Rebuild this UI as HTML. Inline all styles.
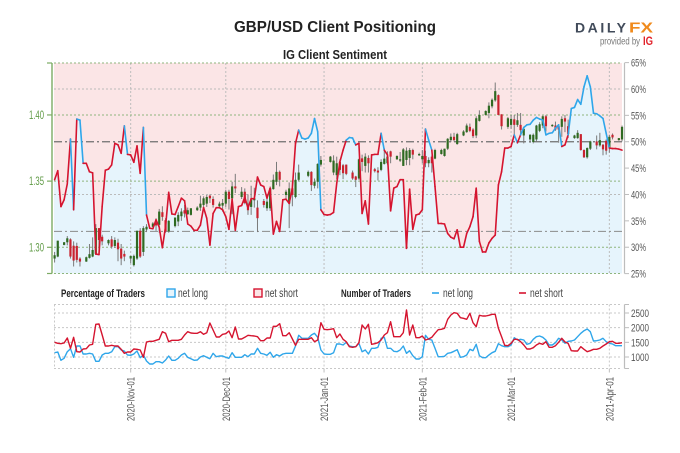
<!DOCTYPE html>
<html>
<head>
<meta charset="utf-8">
<title>GBP/USD Client Positioning</title>
<style>
html,body{margin:0;padding:0;background:#fff;}
svg{display:block;filter:blur(0.3px);}
text{font-family:"Liberation Sans",sans-serif;}
.b{font-weight:bold;}
</style>
</head>
<body>
<svg id="chart" xmlns="http://www.w3.org/2000/svg" width="680" height="453" viewBox="0 0 680 453">
  <text class="b" x="234" y="32" font-size="16" fill="#222" textLength="202" lengthAdjust="spacingAndGlyphs">GBP/USD Client Positioning</text>
  <text class="b" x="283" y="59" font-size="12.5" fill="#222" textLength="104" lengthAdjust="spacingAndGlyphs">IG Client Sentiment</text>
  <text class="b" x="575" y="32.5" font-size="14" fill="#414b5a" textLength="51">DAILY</text>
  <text class="b" x="629" y="32.5" font-size="14.5" fill="#f08a1c" textLength="24" lengthAdjust="spacingAndGlyphs">FX</text>
  <text x="600" y="44.5" font-size="10.5" fill="#777" textLength="40" lengthAdjust="spacingAndGlyphs">provided by</text>
  <text class="b" x="643" y="45" font-size="12" fill="#e1222b" textLength="10" lengthAdjust="spacingAndGlyphs">IG</text>
  <g id="main"></g>
  <g id="lower"></g>
  <g id="legend">
    <text class="b" x="61" y="297" font-size="11" fill="#222" textLength="84" lengthAdjust="spacingAndGlyphs">Percentage of Traders</text>
    <rect x="167" y="289" width="8" height="8" fill="#e6f4fc" stroke="#2fa6ea" stroke-width="1.4"/>
    <text x="178" y="297" font-size="11.5" fill="#444" textLength="30" lengthAdjust="spacingAndGlyphs">net long</text>
    <rect x="254" y="289" width="8" height="8" fill="#fbe5e6" stroke="#d5142f" stroke-width="1.4"/>
    <text x="265" y="297" font-size="11.5" fill="#444" textLength="33" lengthAdjust="spacingAndGlyphs">net short</text>
    <text class="b" x="341" y="297" font-size="11" fill="#222" textLength="70" lengthAdjust="spacingAndGlyphs">Number of Traders</text>
    <line x1="432" x2="439" y1="293" y2="293" stroke="#2fa6ea" stroke-width="1.6"/>
    <text x="443" y="297" font-size="11.5" fill="#444" textLength="30" lengthAdjust="spacingAndGlyphs">net long</text>
    <line x1="519" x2="526" y1="293" y2="293" stroke="#d5142f" stroke-width="1.6"/>
    <text x="530" y="297" font-size="11.5" fill="#444" textLength="33" lengthAdjust="spacingAndGlyphs">net short</text>
  </g>
</svg>
<script>
// Daily net-long percentage, first value is 2020-10-08
var sentimentPct = [42.8,44.5,37.7,39.0,42.0,50.5,37.1,54.3,54.1,45.9,45.9,44.3,44.1,28.7,28.6,37.7,44.6,44.8,45.6,49.7,
49.4,47.8,53.0,47.6,47.5,46.1,49.2,44.0,52.7,36.1,33.6,33.5,35.2,33.8,29.9,33.9,40.4,36.3,36.2,37.7,
39.3,38.8,34.4,34.0,33.2,33.2,34.2,37.5,35.5,30.4,36.4,37.5,37.5,37.1,35.8,33.4,39.1,33.2,37.7,37.9,
39.5,37.4,39.2,39.2,43.3,41.8,41.5,39.3,41.2,32.5,34.9,33.0,39.0,39.1,38.3,41.2,49.7,52.2,50.7,50.5,
50.7,51.6,54.4,51.9,37.1,36.2,36.1,36.2,36.6,42.1,46.2,48.4,50.3,50.8,50.7,49.4,49.7,36.4,38.8,34.4,
47.5,47.6,47.6,51.6,48.4,47.5,36.9,41.2,41.5,42.8,42.8,29.8,41.0,33.4,36.1,36.3,37.1,52.4,50.3,48.4,
41.5,34.5,34.5,34.4,32.6,31.9,31.6,33.3,30.0,30.0,32.6,33.9,35.8,41.2,31.1,29.1,29.1,30.8,31.7,32.3,
41.8,44.3,48.8,48.8,49.1,51.3,49.8,51.3,52.7,53.2,53.3,54.1,54.6,54.3,54.1,51.3,51.6,51.7,52.6,53.2,
49.1,49.4,51.3,56.3,56.5,58.0,57.1,60.4,62.5,60.4,55.4,55.3,54.9,54.4,51.6,48.8,48.7,48.7,48.6,48.4];

// Candles: day offset from 2020-10-08, then open / high / low / close
var candleDay = [0,1,3,4,5,6,7,8,10,11,12,13,14,15,17,18,19,20,21,22,24,25,26,27,28,29,31,32,33,34,35,36,38,39,40,41,42,43,45,46,47,48,49,50,52,53,54,55,56,57,59,60,61,62,63,64,66,67,68,69,70,71,73,74,75,76,77,80,81,82,83,84,87,88,89,90,91,92,94,95,96,97,98,99,101,102,103,104,105,106,108,109,110,111,112,113,115,116,117,118,119,120,122,123,124,125,126,127,129,130,131,132,133,134,136,137,138,139,140,141,143,144,145,146,147,148,150,151,152,153,154,155,157,158,159,160,161,162,164,165,166,167,168,169,171,172,173,174,175,176,178,179];
var candleOpen = [1.2915,1.293,1.3018,1.3038,1.306,1.3012,1.301,1.2915,1.2892,1.292,1.293,1.295,1.3145,1.308,1.303,1.306,1.301,1.3035,1.299,1.295,1.2915,1.2865,1.2915,1.3125,1.2965,1.3135,1.3155,1.3185,1.317,1.3265,1.3205,1.312,1.316,1.3195,1.3235,1.328,1.325,1.3245,1.328,1.33,1.332,1.333,1.339,1.3365,1.331,1.3315,1.333,1.342,1.337,1.346,1.338,1.342,1.332,1.3305,1.3355,1.33,1.335,1.3295,1.3295,1.344,1.3495,1.357,1.3395,1.333,1.3445,1.338,1.351,1.354,1.357,1.3465,1.3495,1.3625,1.3645,1.3565,1.3545,1.3645,1.362,1.3625,1.3565,1.3535,1.352,1.3672,1.3615,1.3675,1.359,1.358,1.3585,1.363,1.3635,1.3725,1.3665,1.3655,1.3615,1.366,1.3675,1.3735,1.3695,1.3665,1.369,1.3635,1.3685,1.367,1.3705,1.369,1.3745,1.381,1.3835,1.378,1.3845,1.387,1.391,1.389,1.3845,1.3955,1.40,1.4015,1.4065,1.411,1.415,1.4005,1.391,1.3925,1.3967,1.3925,1.3925,1.3845,1.3815,1.3795,1.3815,1.388,1.392,1.399,1.3915,1.392,1.3915,1.391,1.3975,1.3915,1.3825,1.3825,1.3855,1.3735,1.368,1.3745,1.38,1.377,1.3775,1.3805,1.3755,1.385,1.381,1.3815];
var candleHigh = [1.2965,1.305,1.304,1.3085,1.3068,1.3045,1.3035,1.2925,1.293,1.3025,1.3075,1.3175,1.3145,1.3095,1.306,1.3085,1.3075,1.3065,1.3025,1.2975,1.2935,1.2945,1.3125,1.3145,1.316,1.3175,1.319,1.322,1.329,1.331,1.322,1.3205,1.3225,1.3265,1.3295,1.332,1.33,1.3295,1.331,1.339,1.3385,1.3395,1.34,1.3385,1.3345,1.3365,1.3435,1.3435,1.3495,1.3555,1.3455,1.3445,1.34,1.3465,1.345,1.3355,1.3365,1.34,1.346,1.355,1.3645,1.358,1.3435,1.349,1.3495,1.3565,1.3625,1.358,1.3575,1.352,1.3635,1.369,1.369,1.3695,1.3685,1.3665,1.363,1.3625,1.358,1.354,1.367,1.37,1.371,1.3695,1.36,1.3605,1.3665,1.375,1.3725,1.373,1.3695,1.372,1.375,1.3755,1.375,1.3745,1.3715,1.3735,1.373,1.368,1.3695,1.3745,1.3745,1.3745,1.3825,1.386,1.3865,1.3865,1.3885,1.3935,1.3935,1.39,1.399,1.4035,1.4035,1.4095,1.4125,1.4245,1.4155,1.4005,1.3985,1.40,1.40,1.4015,1.4015,1.39,1.3855,1.386,1.3925,1.3945,1.3995,1.40,1.393,1.395,1.3925,1.399,1.40,1.3965,1.385,1.3885,1.3855,1.374,1.3755,1.3805,1.3845,1.3865,1.378,1.3815,1.385,1.386,1.3825,1.392];
var candleLow = [1.2885,1.2925,1.3015,1.3015,1.2915,1.2855,1.2885,1.2855,1.289,1.2915,1.2925,1.2945,1.2975,1.3015,1.3015,1.299,1.2995,1.2895,1.2865,1.2895,1.288,1.2855,1.2905,1.292,1.2935,1.3115,1.315,1.3125,1.311,1.32,1.311,1.311,1.315,1.316,1.32,1.3225,1.3245,1.324,1.3275,1.3275,1.3305,1.3305,1.3335,1.33,1.3305,1.327,1.3305,1.3285,1.325,1.341,1.3365,1.3325,1.3245,1.3245,1.33,1.3115,1.33,1.3275,1.3275,1.3435,1.347,1.346,1.336,1.3145,1.331,1.337,1.35,1.353,1.3425,1.3445,1.3445,1.361,1.364,1.3545,1.3515,1.3545,1.3515,1.3545,1.351,1.3455,1.351,1.3575,1.3565,1.3565,1.3565,1.3505,1.3575,1.3625,1.3625,1.3635,1.366,1.3645,1.3615,1.362,1.362,1.3665,1.369,1.3635,1.3605,1.3605,1.3565,1.3665,1.37,1.3685,1.3735,1.3795,1.38,1.3775,1.384,1.3865,1.387,1.3825,1.3825,1.395,1.3995,1.3975,1.405,1.41,1.40,1.389,1.3895,1.3895,1.3855,1.391,1.3855,1.3785,1.379,1.3785,1.38,1.387,1.39,1.3875,1.391,1.388,1.379,1.3835,1.387,1.3825,1.382,1.382,1.373,1.3675,1.367,1.3735,1.374,1.376,1.3695,1.37,1.3715,1.3815,1.3805,1.38];
var candleClose = [1.294,1.305,1.3038,1.3068,1.293,1.29,1.2905,1.2892,1.2925,1.2948,1.298,1.3145,1.3055,1.3045,1.3055,1.3005,1.3055,1.2985,1.2915,1.293,1.2935,1.2935,1.3125,1.293,1.3145,1.3155,1.318,1.3165,1.327,1.323,1.312,1.32,1.3225,1.3245,1.327,1.3255,1.328,1.3295,1.33,1.333,1.337,1.338,1.337,1.332,1.333,1.3335,1.342,1.3365,1.346,1.3445,1.342,1.3335,1.328,1.336,1.337,1.322,1.332,1.3345,1.3445,1.351,1.357,1.351,1.342,1.3445,1.3395,1.351,1.3565,1.357,1.347,1.3495,1.363,1.366,1.3685,1.3655,1.3635,1.3585,1.356,1.3555,1.352,1.351,1.3665,1.3645,1.3685,1.3635,1.3575,1.3565,1.3645,1.367,1.3685,1.3685,1.369,1.3665,1.374,1.373,1.3735,1.37,1.3705,1.369,1.3635,1.366,1.3635,1.3735,1.3735,1.3745,1.382,1.3835,1.381,1.3855,1.3875,1.392,1.388,1.384,1.3975,1.40,1.403,1.407,1.4115,1.418,1.40,1.3915,1.3975,1.397,1.3925,1.396,1.3885,1.3895,1.385,1.385,1.392,1.393,1.399,1.3915,1.3925,1.389,1.389,1.397,1.395,1.3855,1.3845,1.3865,1.3735,1.368,1.375,1.38,1.377,1.381,1.374,1.373,1.3835,1.383,1.3825,1.391];

// Trader counts per day
var countLong = [1148,1170,886,955,1182,1284,989,1375,1375,1102,1102,1125,1102,852,852,1068,1125,1125,1182,1352,
1352,1239,1204,1068,1057,1102,1204,977,1068,864,761,761,841,841,795,898,1034,886,886,955,
1068,1125,989,943,886,898,1000,1045,989,943,1125,1011,1034,1034,989,955,1148,989,989,989,
1080,1011,1102,1102,1295,1125,1102,1057,1159,989,1080,1034,1102,1125,1125,1125,1375,1738,1636,1636,
1636,1750,1807,1670,1239,1102,1091,1091,1148,1443,1443,1409,1500,1375,1352,1352,1466,1182,1239,1102,
1295,1295,1329,1636,1670,1295,1295,1193,1182,1239,1375,1125,1216,1045,932,932,1011,1738,1602,1579,
1295,1011,1011,1023,1125,1148,1193,1250,989,1011,1068,1261,1216,1432,1045,977,977,1068,1148,1193,
1454,1386,1352,1352,1409,1659,1579,1602,1579,1432,1466,1602,1693,1716,1670,1579,1409,1409,1489,1636,
1579,1466,1534,1545,1579,1693,1807,1897,1954,1863,1545,1557,1579,1636,1523,1466,1443,1386,1386,1386];
var countShort = [1500,1466,1454,1477,1648,1295,1670,1182,1170,1273,1284,1409,1432,2113,2125,1750,1375,1375,1398,1375,
1375,1261,1125,1170,1170,1273,1261,1239,989,1511,1534,1534,1568,1602,1863,1807,1523,1568,1568,1568,
1602,1750,1863,1818,1807,1807,1863,1772,1829,2159,1920,1682,1682,1772,1795,1886,1659,2022,1613,1613,
1670,1738,1727,1716,1693,1557,1557,1648,1648,2045,2045,2136,1727,1727,1829,1613,1398,1602,1602,1602,
1602,1659,1523,1579,2170,1943,1932,1943,1966,1659,1784,1602,1523,1352,1329,1352,1489,2091,1954,2113,
1432,1454,1489,1579,1750,1829,2204,1693,1693,1693,1829,2602,1750,2091,1659,1659,1716,1579,1613,1670,
1807,1932,1943,1977,2284,2431,2511,2488,2340,2318,2284,2488,2170,2034,2420,2397,2397,2420,2454,2454,
1977,1693,1398,1386,1466,1602,1602,1523,1409,1273,1273,1318,1409,1466,1432,1523,1329,1329,1386,1500,
1636,1511,1466,1216,1204,1204,1352,1261,1182,1216,1261,1261,1295,1375,1443,1523,1534,1466,1466,1489];

// Axis labels
var priceTicks = [1.30,1.35,1.40];
var pctTicks = [25,30,35,40,45,50,55,60,65];
var pctGridLines = [40,60];
var pctRefLines = [33,50];
var countTicks = [1000,1500,2000,2500];
var dateTickDays = [24,54,85,116,144,175];
var dateTickLabels = ['2020-Nov-01','2020-Dec-01','2021-Jan-01','2021-Feb-01','2021-Mar-01','2021-Apr-01'];

var NS = 'http://www.w3.org/2000/svg';
var main = document.getElementById('main');
var lower = document.getElementById('lower');
var PL = 54, PR = 622, PT = 63, PB = 273.5, LT = 304.5, LB = 368.5;

function xAt(d){ return 54.6 + d * 3.17; }
function yPct(p){ return 273.6 - (p - 25) * 5.275; }
function yPrice(v){ return 247.3 - (v - 1.30) * 1323.5; }
function yCount(v){ return 357 - (v - 1000) * 0.02934; }

function mk(parent, tag, attrs){
  var el = document.createElementNS(NS, tag);
  for (var k in attrs) el.setAttribute(k, attrs[k]);
  parent.appendChild(el);
  return el;
}
function pts(arr, yf){
  return arr.map(function(v, i){ return xAt(i).toFixed(1) + ',' + yf(v).toFixed(1); }).join(' ');
}

// Backgrounds
var bgShort = mk(main, 'rect', {x:PL, y:PT, width:PR-PL, height:PB-PT, fill:'#fbe5e6'});


var areaPts = xAt(0).toFixed(1) + ',' + PB + ' ' + pts(sentimentPct, yPct) + ' ' + xAt(sentimentPct.length-1).toFixed(1) + ',' + PB;
var areaLong = mk(main, 'polygon', {points:areaPts, fill:'#e6f4fc'});


var leftPatch = mk(main, 'rect', {x:PL, y:yPct(sentimentPct[0]), width:0.6, height:PB-yPct(sentimentPct[0]), fill:'#e6f4fc'});



// Vertical grid
dateTickDays.forEach(function(d){
  var g = mk(main, 'line', {x1:xAt(d), x2:xAt(d), y1:PT, y2:PB, stroke:'#bdbdbd', 'stroke-width':1, 'stroke-dasharray':'2 2'});
  
  
});
// Percent grid
pctGridLines.forEach(function(p){
  var g = mk(main, 'line', {x1:PL, x2:PR, y1:yPct(p), y2:yPct(p), stroke:'#bbb', 'stroke-width':1, 'stroke-dasharray':'2 2'});
  
  
});
// Price grid with frame edges
priceTicks.forEach(function(v){
  var g = mk(main, 'line', {x1:PL, x2:PR, y1:yPrice(v), y2:yPrice(v), stroke:'#8fb57d', 'stroke-width':1, 'stroke-dasharray':'2 2'});
  
  
});
[PT, PB].forEach(function(y){
  var g = mk(main, 'line', {x1:PL, x2:PR, y1:y, y2:y, stroke:'#8fb57d', 'stroke-width':1, 'stroke-dasharray':'2 2'});
  
  
});
// Reference lines
pctRefLines.forEach(function(p, i){
  var g = mk(main, 'line', {x1:PL, x2:PR, y1:yPct(p), y2:yPct(p), stroke:i ? '#6f6f6f' : '#8a8a8a', 'stroke-width':i ? 1.3 : 1, 'stroke-dasharray':'8 3 2 3'});
  
  
});

// Candles
candleDay.forEach(function(d, i){
  var o = candleOpen[i], c = candleClose[i], x = xAt(d);
  var wick = mk(main, 'line', {x1:x, x2:x, y1:yPrice(candleHigh[i]), y2:yPrice(candleLow[i]), stroke:'#7a7a7a', 'stroke-width':1});
  
  
  var top = yPrice(Math.max(o, c)), bot = yPrice(Math.min(o, c));
  var body = mk(main, 'rect', {x:x-1.1, y:top, width:2.2, height:Math.max(bot-top, 1), fill:c >= o ? '#2f6a22' : '#c9222f'});
  
  
});

// Sentiment line, coloured by the side its segment starts on
for (var s = 0; s < sentimentPct.length - 1; s++) {
  var seg = mk(main, 'line', {x1:xAt(s), x2:xAt(s+1), y1:yPct(sentimentPct[s]), y2:yPct(sentimentPct[s+1]), stroke:sentimentPct[s] > 50 ? '#2fa6ea' : '#d5142f', 'stroke-width':1.6, 'stroke-linecap':'round'});
  
  
}

// Left price axis
var leftAxis = mk(main, 'line', {x1:52, x2:52, y1:PT, y2:PB, stroke:'#7cab63', 'stroke-width':1.4});


[PT, PB].forEach(function(y){
  var t = mk(main, 'line', {x1:47, x2:52, y1:y, y2:y, stroke:'#7cab63', 'stroke-width':1.2});
  
  
});
priceTicks.forEach(function(v){
  var t = mk(main, 'line', {x1:47, x2:52, y1:yPrice(v), y2:yPrice(v), stroke:'#7cab63', 'stroke-width':1.2});
  
  
  var l = mk(main, 'text', {x:29, y:yPrice(v)+4, 'font-size':11.5, textLength:15, lengthAdjust:'spacingAndGlyphs', fill:'#5f9a45'});
  
  
  l.textContent = v.toFixed(2);
});

// Right percent axis
var rightAxis = mk(main, 'line', {x1:624.5, x2:624.5, y1:PT, y2:PB, stroke:'#bdbdbd', 'stroke-width':1.2});


pctTicks.forEach(function(p){
  var t = mk(main, 'line', {x1:624.5, x2:629, y1:yPct(p), y2:yPct(p), stroke:'#bdbdbd', 'stroke-width':1});
  
  
  var l = mk(main, 'text', {x:631, y:yPct(p)+4, 'font-size':11, textLength:15, lengthAdjust:'spacingAndGlyphs', fill:'#555'});
  
  
  l.textContent = p + '%';
});

// Lower panel grid
countTicks.forEach(function(v){
  var g = mk(lower, 'line', {x1:PL, x2:PR, y1:yCount(v), y2:yCount(v), stroke:'#c8c8c8', 'stroke-width':1, 'stroke-dasharray':'2 2'});
  
  
  var t = mk(lower, 'line', {x1:624.5, x2:629, y1:yCount(v), y2:yCount(v), stroke:'#bdbdbd', 'stroke-width':1});
  
  
  var l = mk(lower, 'text', {x:631, y:yCount(v)+4, 'font-size':11, textLength:18, lengthAdjust:'spacingAndGlyphs', fill:'#555'});
  
  
  l.textContent = v;
});
[LT, LB].forEach(function(y){
  var g = mk(lower, 'line', {x1:PL, x2:PR, y1:y, y2:y, stroke:'#c8c8c8', 'stroke-width':1, 'stroke-dasharray':'2 2'});
  
  
  var t = mk(lower, 'line', {x1:624.5, x2:629, y1:y, y2:y, stroke:'#bdbdbd', 'stroke-width':1});
  
  
});
var lowerLeft = mk(lower, 'line', {x1:PL+0.5, x2:PL+0.5, y1:LT, y2:LB, stroke:'#c8c8c8', 'stroke-width':1, 'stroke-dasharray':'2 2'});


var lowerAxis = mk(lower, 'line', {x1:624.5, x2:624.5, y1:LT, y2:LB, stroke:'#bdbdbd', 'stroke-width':1.2});



// Date ticks and labels
dateTickDays.forEach(function(d, i){
  var x = xAt(d);
  var g = mk(lower, 'line', {x1:x, x2:x, y1:LT, y2:LB, stroke:'#c8c8c8', 'stroke-width':1, 'stroke-dasharray':'2 2'});
  
  
  var t = mk(lower, 'line', {x1:x, x2:x, y1:LB, y2:LB+4, stroke:'#bdbdbd', 'stroke-width':1});
  
  
  var l = mk(lower, 'text', {x:-44, y:0, 'font-size':11, textLength:44, lengthAdjust:'spacingAndGlyphs', fill:'#555', transform:'translate(' + (x+4) + ',377) rotate(-90)'});
  
  
  l.textContent = dateTickLabels[i];
});

// Count lines
var longLine = mk(lower, 'polyline', {points:pts(countLong, yCount), fill:'none', stroke:'#2fa6ea', 'stroke-width':1.4, 'stroke-linejoin':'round'});


var shortLine = mk(lower, 'polyline', {points:pts(countShort, yCount), fill:'none', stroke:'#d5142f', 'stroke-width':1.4, 'stroke-linejoin':'round'});


</script>
</body>
</html>
